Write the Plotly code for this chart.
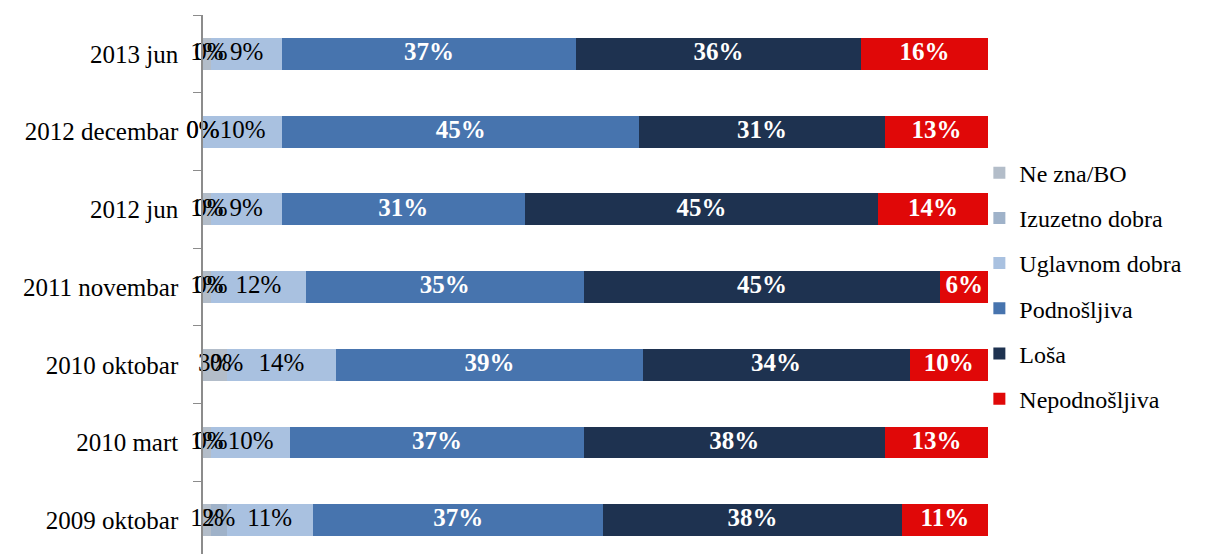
import plotly.graph_objects as go

categories = ["2013 jun", "2012 decembar", "2012 jun", "2011 novembar",
              "2010 oktobar", "2010 mart", "2009 oktobar"]

series_names = ["Ne zna/BO", "Izuzetno dobra", "Uglavnom dobra",
                "Podnošljiva", "Loša", "Nepodnošljiva"]

ne_zna = [1, 0, 1, 1, 3, 1, 1]
izuzetno_dobra = [0, 0, 0, 0, 0, 0, 2]
uglavnom_dobra = [9, 10, 9, 12, 14, 10, 11]
podnosljiva = [37, 45, 31, 35, 39, 37, 37]
losa = [36, 31, 45, 45, 34, 38, 38]
nepodnosljiva = [16, 13, 14, 6, 10, 13, 11]

values = [ne_zna, izuzetno_dobra, uglavnom_dobra, podnosljiva, losa, nepodnosljiva]
colors = ["#b3bdc9", "#9fb2c9", "#a9c1e0", "#4774ae", "#1e3250", "#e00808"]
text_colors = ["black", "black", "black", "white", "white", "white"]
weights = ["normal", "normal", "normal", "bold", "bold", "bold"]

FONT = "Liberation Serif"

fig = go.Figure()
# bars (100% stacked)
for name, vals, col in zip(series_names, values, colors):
    fig.add_trace(go.Bar(
        y=categories, x=vals, name=name, orientation="h",
        marker=dict(color=col, line=dict(width=0)),
        textposition="none", legendgroup=name,
    ))

# data labels, centred in each normalised stacked segment (computed from the data)
totals = [sum(col) for col in zip(*values)]
base = [0.0] * len(categories)
for name, vals, tcol, w in zip(series_names, values, text_colors, weights):
    shares = [100.0 * v / t for v, t in zip(vals, totals)]
    mids = [b + s / 2 for b, s in zip(base, shares)]
    fig.add_trace(go.Scatter(
        x=mids, y=categories, mode="text",
        text=[f"{v}%" for v in vals], textposition="middle center",
        textfont=dict(family=FONT, size=25, color=tcol, weight=w),
        showlegend=False, hoverinfo="skip", cliponaxis=False,
        legendgroup=name,
    ))
    base = [b + s for b, s in zip(base, shares)]

fig.update_layout(
    barmode="stack",
    barnorm="percent",
    bargap=0.59,
    width=1206, height=554,
    margin=dict(l=203, r=218, t=15, b=0, autoexpand=False),
    plot_bgcolor="white", paper_bgcolor="white",
    font=dict(family=FONT, size=25, color="black"),
    xaxis=dict(visible=False, range=[0, 100], fixedrange=True),
    yaxis=dict(
        type="category", range=[6.435, -0.5], automargin=False,
        showline=True, linecolor="#8c8c8c", linewidth=1.5,
        ticks="outside", tickson="boundaries", ticklen=8, tickcolor="#8c8c8c",
        ticklabelstandoff=18,
        tickfont=dict(family=FONT, size=25, color="black"),
        showgrid=False, zeroline=False,
    ),
    legend=dict(
        x=0.989, xanchor="left", y=0.497, yanchor="middle",
        traceorder="grouped", tracegroupgap=11,
        font=dict(family=FONT, size=24, color="black"),
        bgcolor="rgba(0,0,0,0)",
    ),
    showlegend=True,
)

fig.write_html(
    "out.html",
    config={"displayModeBar": False},
    post_script="document.body.style.margin='0';document.body.style.overflow='hidden';",
)
